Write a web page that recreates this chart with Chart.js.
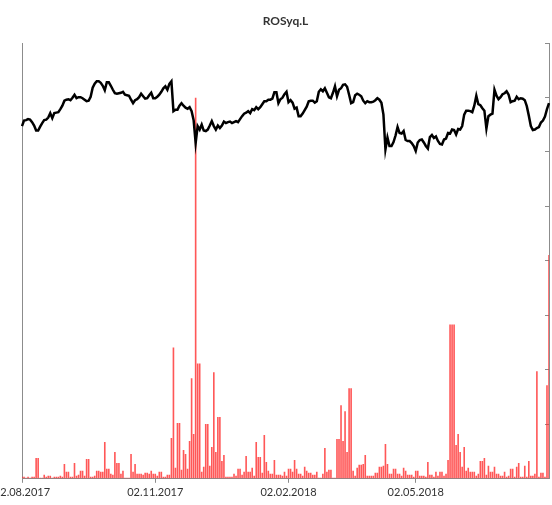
<!DOCTYPE html>
<html>
<head>
<meta charset="utf-8">
<title>ROSyq.L</title>
<script src="https://cdn.jsdelivr.net/npm/chart.js@4"></script>
<style>
  html, body { margin: 0; padding: 0; background: #fff; }
  #wrap { width: 552px; height: 505px; }
</style>
</head>
<body>
<div id="wrap"><canvas id="priceChart"></canvas></div>
<script>
    const title = 'ROSyq.L';
    const tickDates = ['02.08.2017', '02.11.2017', '02.02.2018', '02.05.2018'];

    // close price, one value per trading day
    const price = [
        7.09, 7.20, 7.21, 7.23, 7.22, 7.17, 7.10, 7.00, 7.00, 7.08,
        7.15, 7.21, 7.22, 7.26, 7.35, 7.25, 7.35, 7.36, 7.37, 7.43,
        7.50, 7.60, 7.62, 7.63, 7.61, 7.66, 7.72, 7.65, 7.67, 7.67,
        7.65, 7.62, 7.59, 7.60, 7.68, 7.86, 7.94, 7.99, 7.99, 7.96,
        7.90, 7.81, 7.97, 7.97, 7.90, 7.82, 7.75, 7.74, 7.75, 7.76,
        7.78, 7.72, 7.71, 7.70, 7.62, 7.55, 7.61, 7.63, 7.67, 7.74,
        7.69, 7.64, 7.65, 7.71, 7.76, 7.65, 7.65, 7.68, 7.72, 7.78,
        7.85, 7.89, 7.82, 7.94, 7.99, 7.39, 7.42, 7.42, 7.50, 7.55,
        7.50, 7.46, 7.44, 7.47, 7.39, 7.21, 6.75, 7.09, 7.02, 7.12,
        7.00, 6.99, 7.02, 7.10, 7.19, 7.09, 7.02, 7.10, 7.05, 7.10,
        7.18, 7.15, 7.17, 7.18, 7.15, 7.17, 7.19, 7.17, 7.23, 7.29,
        7.34, 7.36, 7.39, 7.35, 7.43, 7.41, 7.47, 7.43, 7.47, 7.53,
        7.59, 7.59, 7.62, 7.62, 7.64, 7.77, 7.77, 7.55, 7.63, 7.66,
        7.73, 7.78, 7.57, 7.61, 7.56, 7.44, 7.46, 7.29, 7.29, 7.34,
        7.41, 7.48, 7.59, 7.60, 7.60, 7.56, 7.59, 7.78, 7.83, 7.79,
        7.85, 7.76, 7.67, 7.65, 7.76, 7.89, 7.69, 7.82, 7.85, 7.92,
        7.93, 7.88, 7.72, 7.55, 7.57, 7.71, 7.74, 7.72, 7.69, 7.60,
        7.55, 7.59, 7.57, 7.57, 7.58, 7.61, 7.65, 7.62, 7.56, 7.32,
        6.62, 6.86, 6.69, 6.69, 6.77, 6.90, 7.07, 6.95, 6.94, 6.99,
        6.81, 6.79, 6.79, 6.75, 6.69, 6.59, 6.76, 6.81, 6.82, 6.76,
        6.69, 6.64, 6.87, 6.91, 6.85, 6.88, 6.79, 6.73, 6.72, 6.82,
        6.84, 6.95, 6.94, 7.02, 7.01, 6.92, 7.03, 7.02, 7.09, 7.32,
        7.40, 7.40, 7.39, 7.37, 7.50, 7.70, 7.53, 7.51, 7.45, 7.40,
        7.04, 7.29, 7.32, 7.34, 7.82, 7.70, 7.63, 7.67, 7.73, 7.75,
        7.79, 7.72, 7.57, 7.59, 7.60, 7.68, 7.63, 7.65, 7.64, 7.61,
        7.49, 7.30, 7.09, 7.01, 7.02, 7.05, 7.07, 7.16, 7.20, 7.28,
        7.43, 7.55
    ];

    // volume, thousands of shares
    const volume = [
        4, 4, 2, 4, 2, 4, 4, 42, 42, 2,
        2, 8, 4, 6, 6, 2, 4, 4, 4, 6,
        4, 30, 14, 14, 4, 4, 32, 6, 8, 16,
        16, 6, 40, 40, 4, 4, 6, 16, 16, 14,
        14, 74, 20, 20, 10, 8, 54, 32, 32, 10,
        16, 2, 2, 2, 50, 14, 30, 10, 10, 10,
        8, 12, 12, 10, 16, 10, 10, 6, 14, 14,
        4, 4, 8, 8, 82, 264, 22, 112, 112, 18,
        58, 50, 20, 76, 202, 90, 766, 232, 232, 14,
        24, 110, 110, 26, 64, 214, 54, 124, 124, 36,
        48, 4, 4, 4, 4, 10, 6, 20, 20, 8,
        14, 46, 14, 14, 22, 6, 74, 44, 44, 12,
        88, 34, 16, 10, 10, 38, 8, 8, 8, 6,
        14, 6, 20, 20, 14, 38, 20, 10, 10, 6,
        24, 16, 12, 12, 8, 8, 14, 2, 2, 10,
        62, 14, 18, 18, 2, 2, 80, 80, 148, 76,
        136, 54, 182, 182, 16, 6, 22, 28, 28, 30,
        48, 6, 6, 6, 6, 12, 12, 24, 24, 26,
        70, 30, 10, 10, 20, 20, 10, 10, 6, 22,
        16, 8, 8, 8, 4, 16, 16, 6, 6, 6,
        4, 34, 8, 8, 4, 14, 6, 14, 14, 6,
        10, 38, 310, 310, 310, 68, 90, 54, 24, 64,
        16, 22, 14, 14, 14, 6, 10, 36, 36, 42,
        8, 26, 14, 14, 24, 10, 10, 6, 6, 14,
        4, 6, 20, 20, 4, 24, 32, 4, 4, 26,
        4, 36, 6, 6, 10, 216, 4, 12, 12, 4,
        188, 450
    ];

    // trading days (Mon-Fri) starting 02.08.2017
    const dates = [];
    const pad = n => String(n).padStart(2, '0');
    for (let d = new Date(2017, 7, 2); dates.length < price.length; d.setDate(d.getDate() + 1)) {
        if (d.getDay() === 0 || d.getDay() === 6) continue;
        dates.push(pad(d.getDate()) + '.' + pad(d.getMonth() + 1) + '.' + d.getFullYear());
    }

    const axisColor = '#8c8c8c';
    const font = { family: "Lato, 'Liberation Sans', sans-serif", size: 11 };

    const ctx = document.getElementById('priceChart').getContext('2d');
    new Chart(ctx, {
        type: 'bar',
        data: {
            labels: dates,
            datasets: [{
                type: 'line',
                label: 'Close',
                data: price,
                yAxisID: 'y',
                borderColor: '#000000',
                borderWidth: 2.5,
                pointRadius: 0,
                tension: 0,
                order: 0
            }, {
                type: 'bar',
                label: 'Volume',
                data: volume,
                yAxisID: 'y1',
                backgroundColor: 'rgba(255, 45, 45, 0.8)',
                borderWidth: 0,
                barPercentage: 0.8,
                categoryPercentage: 1,
                order: 1
            }]
        },
        options: {
            responsive: true,
            maintainAspectRatio: false,
            animation: false,
            layout: { padding: { left: 22, right: 3, top: 0, bottom: 3 } },
            plugins: {
                legend: { display: false },
                tooltip: { enabled: false },
                title: {
                    display: true,
                    text: title,
                    color: '#333',
                    font: { family: "Lato, 'Liberation Sans', sans-serif", size: 12, weight: 'bold' },
                    padding: { top: 14, bottom: 14.6 }
                }
            },
            scales: {
                x: {
                    offset: false,
                    grid: { offset: false, drawOnChartArea: false, drawTicks: true, tickLength: 4, color: axisColor },
                    border: { color: axisColor },
                    ticks: { color: '#333', font: font, maxRotation: 0, autoSkip: false, padding: 3 },
                    afterBuildTicks: scale => {
                        scale.ticks = scale.ticks.filter(t => tickDates.includes(dates[t.value]));
                    },
                    afterFit: scale => { scale.paddingLeft = 0; scale.paddingRight = 0; }
                },
                y: {
                    position: 'left',
                    min: 0,
                    max: 8.76,
                    grid: { display: false, drawTicks: false },
                    border: { color: axisColor },
                    ticks: { display: false }
                },
                y1: {
                    position: 'right',
                    min: 0,
                    max: 876,
                    grid: { drawOnChartArea: false, tickLength: -4, color: axisColor },
                    border: { color: axisColor },
                    ticks: { display: false, stepSize: 109.5 }
                }
            }
        }
    });
</script>
</body>
</html>
